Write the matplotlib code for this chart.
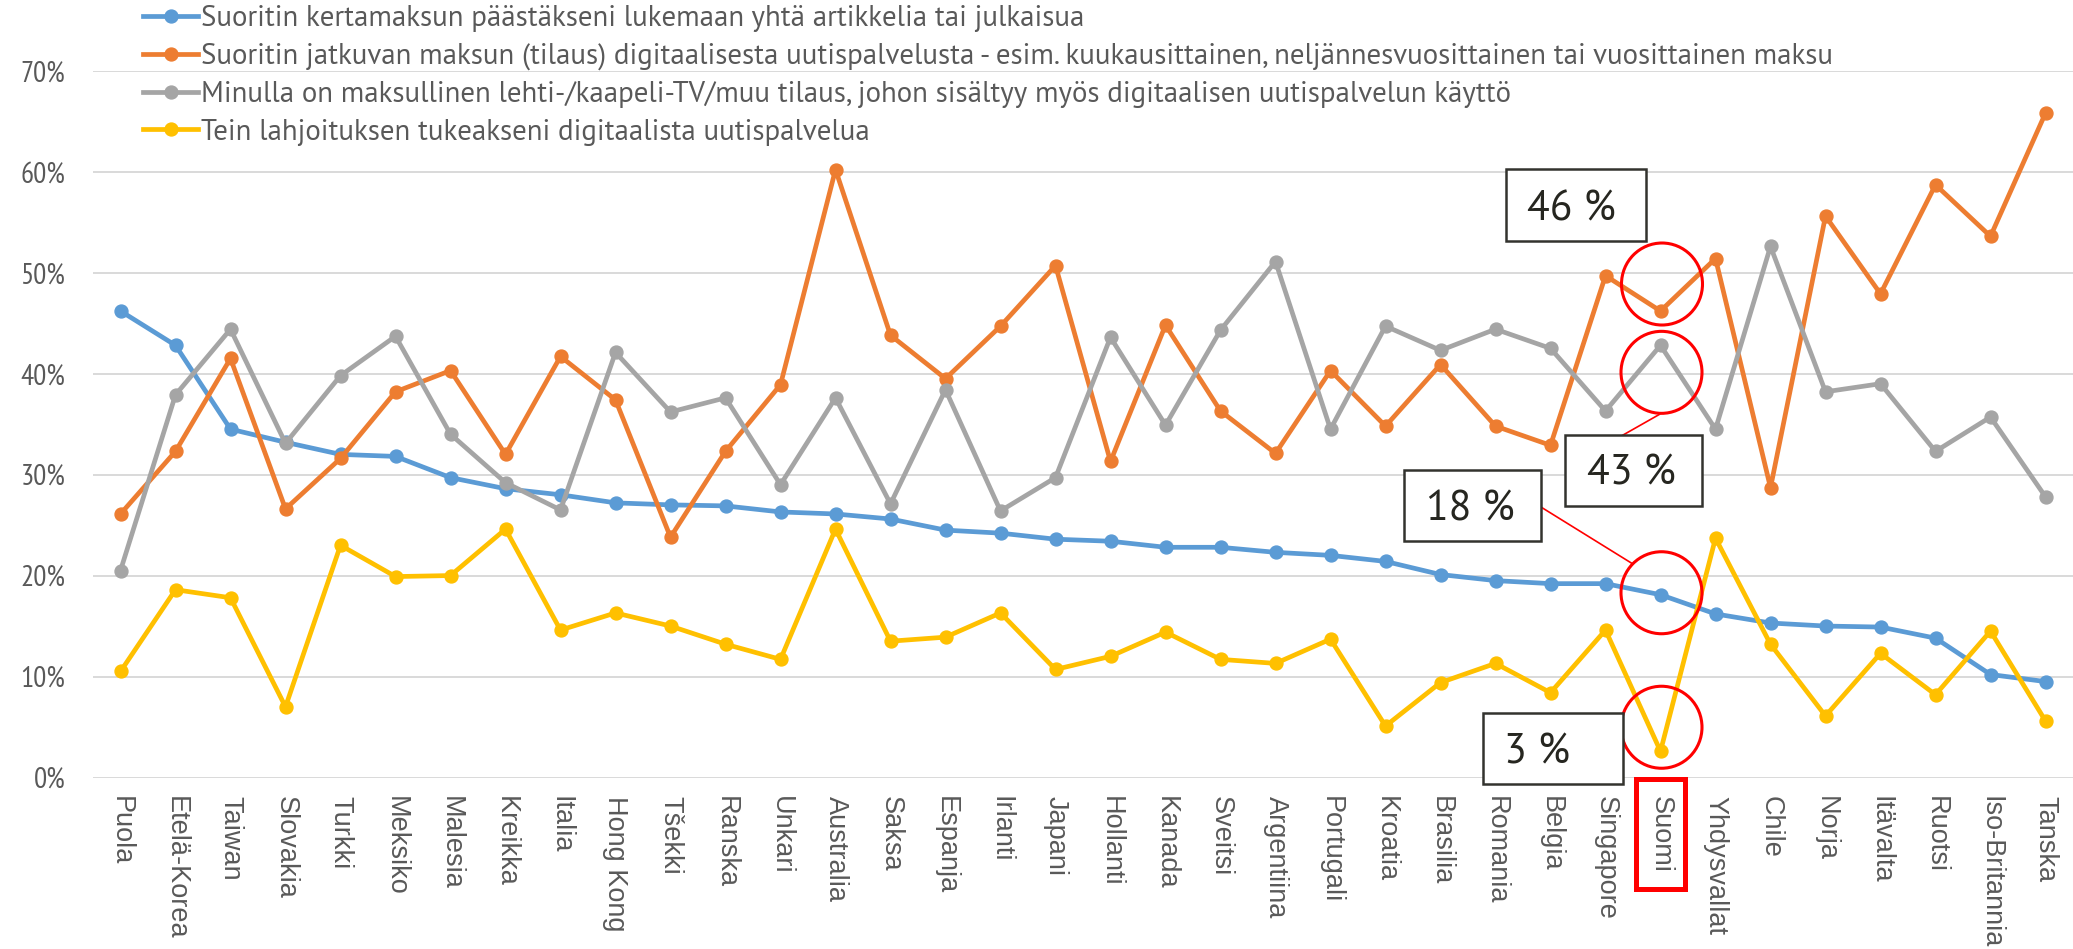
import matplotlib
matplotlib.use("Agg")
import matplotlib.pyplot as plt
import numpy as np
from matplotlib.patches import Ellipse, Rectangle
from matplotlib.lines import Line2D
from matplotlib.ticker import PercentFormatter

# ---------------- data ----------------
countries = ["Puola", "Etelä-Korea", "Taiwan", "Slovakia", "Turkki", "Meksiko", "Malesia",
             "Kreikka", "Italia", "Hong Kong", "Tšekki", "Ranska", "Unkari", "Australia",
             "Saksa", "Espanja", "Irlanti", "Japani", "Hollanti", "Kanada", "Sveitsi",
             "Argentiina", "Portugali", "Kroatia", "Brasilia", "Romania", "Belgia",
             "Singapore", "Suomi", "Yhdysvallat", "Chile", "Norja", "Itävalta", "Ruotsi",
             "Iso-Britannia", "Tanska"]

kertamaksu = [46.2, 42.8, 34.5, 33.2, 32.0, 31.8, 29.7, 28.6, 28.0, 27.2, 27.0, 26.9,
              26.3, 26.1, 25.6, 24.5, 24.2, 23.6, 23.4, 22.8, 22.8, 22.3, 22.0, 21.4,
              20.1, 19.5, 19.2, 19.2, 18.1, 16.2, 15.3, 15.0, 14.9, 13.8, 10.2, 9.5]

jatkuva = [26.1, 32.3, 41.5, 26.6, 31.6, 38.2, 40.3, 32.0, 41.7, 37.4, 23.8, 32.3,
           38.9, 60.2, 43.8, 39.5, 44.7, 50.7, 31.3, 44.8, 36.3, 32.1, 40.3, 34.8,
           40.9, 34.8, 32.9, 49.7, 46.2, 51.4, 28.7, 55.6, 47.9, 58.7, 53.6, 65.8]

tilaus = [20.5, 37.9, 44.4, 33.1, 39.8, 43.7, 34.0, 29.2, 26.5, 42.1, 36.2, 37.6,
          29.0, 37.6, 27.1, 38.4, 26.4, 29.7, 43.6, 34.9, 44.3, 51.1, 34.5, 44.7,
          42.3, 44.4, 42.5, 36.3, 42.8, 34.5, 52.6, 38.2, 39.0, 32.3, 35.7, 27.8]

lahjoitus = [10.5, 18.6, 17.8, 7.0, 23.0, 19.9, 20.0, 24.6, 14.6, 16.3, 15.0, 13.2,
             11.7, 24.6, 13.5, 13.9, 16.3, 10.7, 12.0, 14.4, 11.7, 11.3, 13.7, 5.1,
             9.4, 11.3, 8.4, 14.6, 2.6, 23.7, 13.2, 6.1, 12.3, 8.2, 14.5, 5.6]

series_labels = [
    "Suoritin kertamaksun päästäkseni lukemaan yhtä artikkelia tai julkaisua",
    "Suoritin jatkuvan maksun (tilaus) digitaalisesta uutispalvelusta - esim. kuukausittainen, neljännesvuosittainen tai vuosittainen maksu",
    "Minulla on maksullinen lehti-/kaapeli-TV/muu tilaus, johon sisältyy myös digitaalisen uutispalvelun käyttö",
    "Tein lahjoituksen tukeakseni digitaalista uutispalvelua",
]

highlight_country = "Suomi"
highlight_labels = ["18 %", "46 %", "43 %", "3 %"]

# ---------------- style ----------------
NARROW = ["PT Sans Narrow", "DejaVu Sans"]
HUMAN = ["PT Sans", "DejaVu Sans"]
REG = ["Liberation Sans", "DejaVu Sans"]
plt.rcParams["font.family"] = NARROW

colors = ["#5B9BD5", "#ED7D31", "#A5A5A5", "#FFC000"]
TXT = "#595959"

W, H = 2073, 949
fig = plt.figure(figsize=(W / 100, H / 100), dpi=100)
ax = fig.add_axes([93 / W, 1 - 777.5 / H, 1980 / W, (777.5 - 70.7) / H])

x = np.arange(len(countries))
all_series = [kertamaksu, jatkuva, tilaus, lahjoitus]
handles = []
for vals, c, lab in zip(all_series, colors, series_labels):
    (ln,) = ax.plot(x, np.array(vals) / 100.0, color=c, lw=3.4, marker="o", ms=9.3,
                    label=lab, solid_joinstyle="round", zorder=3)
    handles.append(ln)

ax.set_xlim(-0.5, len(countries) - 0.5)
ax.set_ylim(0, 0.70)
ax.set_yticks(np.arange(0, 0.701, 0.1))
ax.yaxis.set_major_formatter(PercentFormatter(1.0, decimals=0))
ax.grid(axis="y", color="#D9D9D9", lw=1.4)
ax.set_axisbelow(True)
for s in ax.spines.values():
    s.set_visible(False)
ax.tick_params(axis="y", length=0, pad=20, labelsize=21, labelcolor=TXT)
ax.tick_params(axis="x", length=0, pad=13)
ax.set_xticks(x)
ax.set_xticklabels(countries, rotation=-90, fontsize=19.5, color=TXT, family=REG,
                   ha="center", va="top")

# ---------------- legend ----------------
fig.legend(handles=handles, labels=series_labels, loc="upper left",
           bbox_to_anchor=(143 / W, 1 - 5 / H), frameon=False,
           prop=dict(family=HUMAN, size=20.8),
           labelcolor=TXT, handlelength=1.92, handletextpad=0.1, labelspacing=0.37,
           borderpad=0, borderaxespad=0, markerscale=1.0)

# ---------------- highlight annotations ----------------
fig.canvas.draw()
si = countries.index(highlight_country)


def px(pt_img):
    # image coords (y down) -> figure fraction
    return (pt_img[0] / W, 1 - pt_img[1] / H)


# per series: circle center offset, box center offset, box size, text offset, line (start, end)
specs = [
    # blue
    dict(c=(1, -2), b=(-188, -89), bs=(137, 71), t=(-190, -89), line=((-120, -88), (-28, -31))),
    # orange
    dict(c=(1.5, -27), b=(-85, -106), bs=(140, 72), t=(-89, -106), line=None),
    # gray
    dict(c=(1, 27), b=(-27, 125), bs=(137, 71), t=(-29, 124), line=((-38, 90), (-1, 69))),
    # yellow
    dict(c=(1, -24), b=(-108, -3), bs=(140, 71), t=(-124, -3), line=None),
]

for vals, sp, lab in zip(all_series, specs, highlight_labels):
    dx, dy = ax.transData.transform((si, vals[si] / 100.0))
    P = (dx, H - dy)  # image coords
    cc = px((P[0] + sp["c"][0], P[1] + sp["c"][1]))
    fig.patches.append(Ellipse(cc, 81 / W, 82 / H, transform=fig.transFigure,
                               fill=False, ec="#FF0000", lw=2.2, zorder=6))
    bw, bh = sp["bs"]
    bx, by = P[0] + sp["b"][0] - bw / 2, P[1] + sp["b"][1] + bh / 2
    fig.patches.append(Rectangle(px((bx, by)), bw / W, bh / H, transform=fig.transFigure,
                                 fc="white", ec="#33332E", lw=1.8, zorder=7))
    tp = px((P[0] + sp["t"][0], P[1] + sp["t"][1]))
    fig.text(tp[0], tp[1], lab, ha="center", va="center_baseline", fontsize=30,
             family=HUMAN, color="#262620", zorder=8)
    if sp["line"] is not None:
        (a0, a1) = sp["line"]
        p0 = px((P[0] + a0[0], P[1] + a0[1]))
        p1 = px((P[0] + a1[0], P[1] + a1[1]))
        fig.lines.append(Line2D([p0[0], p1[0]], [p0[1], p1[1]], transform=fig.transFigure,
                                color="#FF0000", lw=1.2, zorder=6))

# red rectangle around the highlighted tick label
lbl = ax.get_xticklabels()[si]
bb = lbl.get_window_extent(renderer=fig.canvas.get_renderer())
cx = (bb.x0 + bb.x1) / 2
top_img = 779
bot_img = H - bb.y0 + 17
fig.patches.append(Rectangle(px((cx - 24.5, bot_img)), 49 / W, (bot_img - top_img) / H,
                             transform=fig.transFigure, fill=False, ec="#FF0000", lw=3.6,
                             zorder=9))

fig.savefig("out.png", dpi=100)
